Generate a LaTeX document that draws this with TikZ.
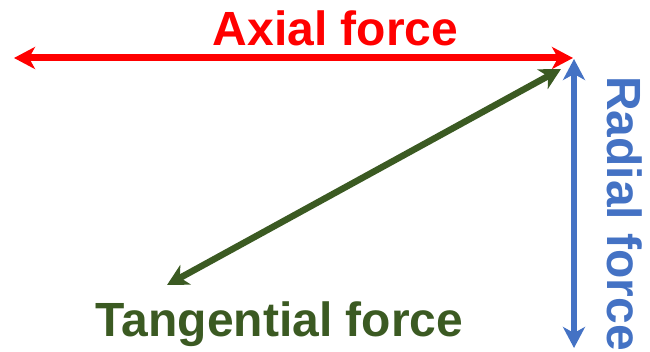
\documentclass[tikz,border=0pt]{standalone}
\usepackage{fontspec}
\setmainfont{Liberation Sans}
\usetikzlibrary{arrows.meta}
\definecolor{axred}{HTML}{FF0000}
\definecolor{tangreen}{HTML}{3B5A22}
\definecolor{radblue}{HTML}{4472C4}
\begin{document}
\begin{tikzpicture}[x=1pt,y=-1pt,
  lbl/.style={font=\fontsize{48}{50}\selectfont\bfseries, inner sep=0pt},
  fheads/.style={{Stealth[length=21pt,width=22pt,inset=6pt]}-{Stealth[length=21pt,width=22pt,inset=6pt]}}]
\useasboundingbox (0,0) rectangle (650,352);
\coordinate (axL) at (14,58);
\coordinate (axR) at (573,58);
\coordinate (radT) at (574,59);
\coordinate (radB) at (574,348);
\coordinate (tgT) at (561,69);
\coordinate (tgB) at (167,285);
\draw[axred, line width=7pt, fheads] (axL) -- (axR);
\draw[radblue, line width=6pt, fheads] (radT) -- (radB);
\draw[tangreen, line width=6.5pt, fheads] (tgB) -- (tgT);
\node[lbl, text=axred, anchor=base] (ax) at (335.5,46) {Axial force};
\node[lbl, text=tangreen, anchor=base] (tg) at (279.5,336) {Tangential force};
\node[lbl, text=radblue, anchor=base, rotate=-90] (rad) at (607,213.5) {Radial force};
\end{tikzpicture}
\end{document}
